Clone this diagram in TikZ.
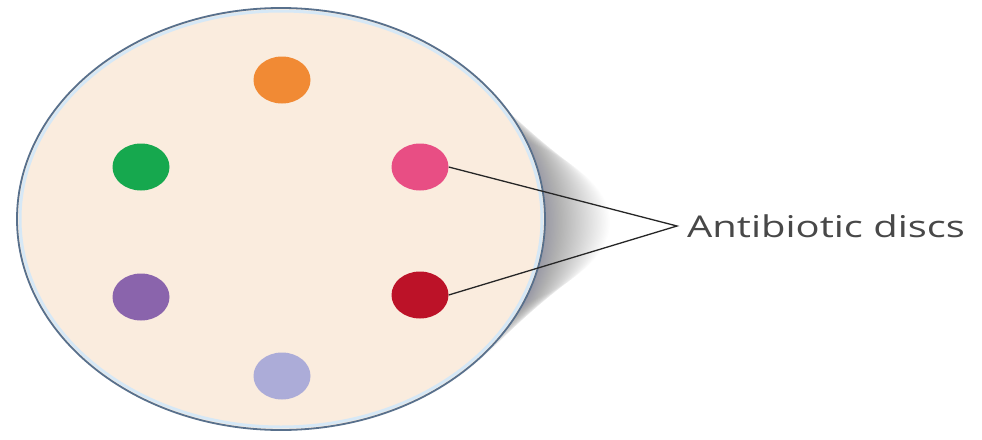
\documentclass[tikz,border=0pt]{standalone}
\usepackage{fontspec}
\setmainfont{Open Sans}
\usetikzlibrary{shapes.geometric, positioning}

\definecolor{dishfill}{RGB}{250,236,222}
\definecolor{dishedge}{RGB}{88,112,140}
\definecolor{dishring}{RGB}{214,232,246}
\definecolor{discorange}{RGB}{241,138,52}
\definecolor{discgreen}{RGB}{22,168,78}
\definecolor{discpink}{RGB}{232,78,132}
\definecolor{discpurple}{RGB}{138,100,172}
\definecolor{discred}{RGB}{188,18,40}
\definecolor{disclilac}{RGB}{172,172,216}
\definecolor{labelgrey}{RGB}{72,72,72}

\begin{document}
\begin{tikzpicture}[
    x=1pt, y=-1pt,
    disc/.style={ellipse, minimum width=57pt, minimum height=47pt,
                 inner sep=0pt},
    pointer/.style={draw=black!85, line width=1.3pt}
  ]
  \useasboundingbox (0,0) rectangle (982,439);
  \fill[white] (0,0) rectangle (982,439);

  % soft shadow to the right of the dish
  \foreach \k in {1,...,50}
    \fill[black!80!blue, opacity=0.0065] (281+\k*0.65,222) ellipse ({264+\k*0.65} and {211-\k*1.9});

  % the dish
  \fill[dishfill] (281,219) ellipse (264 and 211);
  \draw[dishring, line width=3pt] (281,219) ellipse (261 and 208);
  \draw[dishedge, line width=1.8pt] (281,219) ellipse (264 and 211);

  % discs
  \node[disc, fill=discorange] (orange) at (282,80) {};
  \node[disc, fill=discgreen] (green) at (141,167) {};
  \node[disc, fill=discpink] (pink) at (420,167) {};
  \node[disc, fill=discpurple] (purple) at (141,297) {};
  \node[disc, fill=discred] (red) at (420,295) {};
  \node[disc, fill=disclilac] (lilac) at (282,376) {};

  % label with its two pointers
  \coordinate (tip) at (677,226);
  \node[right=10pt of tip, inner sep=0pt, font=\fontsize{30}{34}\selectfont,
        text=labelgrey] (label) {\scalebox{1.33}[1]{Antibiotic discs}};
  \draw[pointer] (pink.east) -- (tip) -- (red.east);
\end{tikzpicture}
\end{document}
